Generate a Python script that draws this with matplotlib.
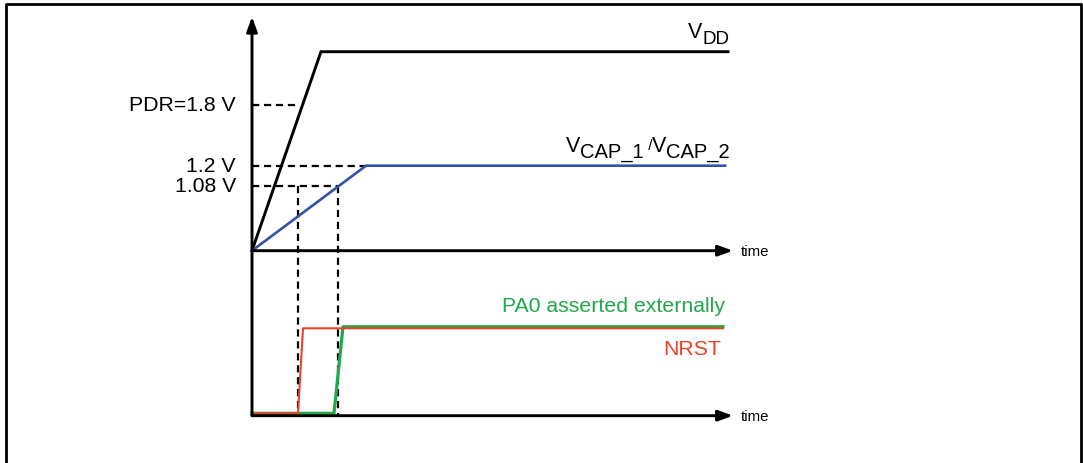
"""Power-up timing sketch: VDD, VCAP_1/VCAP_2, NRST and PA0"""

import matplotlib.pyplot as plt
from matplotlib.lines import Line2D
from matplotlib.transforms import offset_copy

plt.rcParams["font.family"] = ["Liberation Sans", "DejaVu Sans"]
plt.rcParams["lines.scale_dashes"] = False

# schematic units: 1 unit = 10 px, time origin at the y axis
t_vdd = [0, 6.9, 47.6]
v_vdd = [0, 19.9, 19.9]

t_vcap = [0, 11.4, 47.3]
v_vcap = [0, 8.5, 8.5]

ref_labels = ["PDR=1.8 V", "1.2 V", "1.08 V"]
ref_levels = [14.6, 8.5, 6.5]
ref_ends = [4.4, 11.4, 8.6]

marker_times = [4.6, 8.6]

t_nrst = [0, 4.6, 5.1, 47.1]
v_nrst = [0.24, 0.24, 8.74, 8.74]
t_pa0 = [0, 8.2, 9.1, 47.1]
v_pa0 = [0.24, 0.24, 8.9, 8.9]

lower_base = -16.5  # second panel sits below the first one
t_end = 48.1
v_top = 23.4

RED = "#e5432b"
GREEN = "#22a84a"
BLUE = "#3452a8"

fig = plt.figure(figsize=(10.83, 4.64), dpi=100)
ax = fig.add_axes([0, 0, 1, 1])
ax.set_xlim(-25.2, 83.1)
ax.set_ylim(-21.23, 25.17)
ax.axis("off")

# outer frame (open at the bottom)
W, H = 1083, 464
fx = [6 / W, 6 / W, 1081 / W, 1081 / W]
fy = [0, 1 - 5 / H, 1 - 5 / H, 0]
fig.add_artist(Line2D(fx, fy, transform=fig.transFigure, color="k", lw=2.0))

arrow = dict(arrowstyle="-|>,head_length=0.55,head_width=0.2", color="k",
             lw=2.1, shrinkA=0, shrinkB=0, mutation_scale=16)
ax.annotate("", xy=(0, v_top), xytext=(0, lower_base), arrowprops=arrow)
ax.annotate("", xy=(t_end, 0), xytext=(0, 0), arrowprops=arrow)
ax.annotate("", xy=(t_end, lower_base), xytext=(0, lower_base), arrowprops=arrow)
ax.text(t_end + 0.8, 0, "time", fontsize=10.8, va="center")
ax.text(t_end + 0.8, lower_base, "time", fontsize=10.8, va="center")

dash = dict(color="k", lw=1.6, dashes=(5.2, 3.4))
for lab, lev, end in zip(ref_labels, ref_levels, ref_ends):
    ax.plot([0, end], [lev, lev], **dash)
    ax.text(-1.6, lev - 0.5, lab, fontsize=15.3, ha="right", va="baseline")
for tm in marker_times:
    ax.plot([tm, tm], [ref_levels[-1], lower_base], **dash)

ax.plot(t_vdd, v_vdd, color="k", lw=2.1, solid_joinstyle="miter")
ax.plot(t_vcap, v_vcap, color=BLUE, lw=1.9)

ax.plot(t_pa0, [v + lower_base for v in v_pa0], color=GREEN, lw=2.3)
ax.plot(t_nrst, [v + lower_base for v in v_nrst], color=RED, lw=1.5)

ax.text(47.3, -6.03, "PA0 asserted externally", fontsize=15.3, color=GREEN,
        ha="right", va="baseline")
ax.text(46.9, -10.33, "NRST", fontsize=15.3, color=RED, ha="right",
        va="baseline")


def chunk_label(x, y, parts):
    """Lay out (text, size, dy_px) pieces so they end at x."""
    renderer = fig.canvas.get_renderer()
    texts = []
    for s, size, dy in parts:
        t = ax.text(x, y, s, fontsize=size, va="baseline", ha="left")
        texts.append((t, t.get_window_extent(renderer).width, dy))
    total = sum(w for _, w, _ in texts)
    off = -total
    for t, w, dy in texts:
        t.set_transform(offset_copy(ax.transData, fig, x=off, y=dy,
                                    units="dots"))
        off += w


chunk_label(47.7, 21.37, [("V", 15.5, 0), ("DD", 13.5, -6)])
chunk_label(47.8, 10.0, [("V", 15.5, 0), ("CAP_1", 14.5, -6), (" /", 11, 2),
                         ("V", 15.5, 0), ("CAP_2", 14.5, -6)])

fig.savefig("out.png", dpi=100)
